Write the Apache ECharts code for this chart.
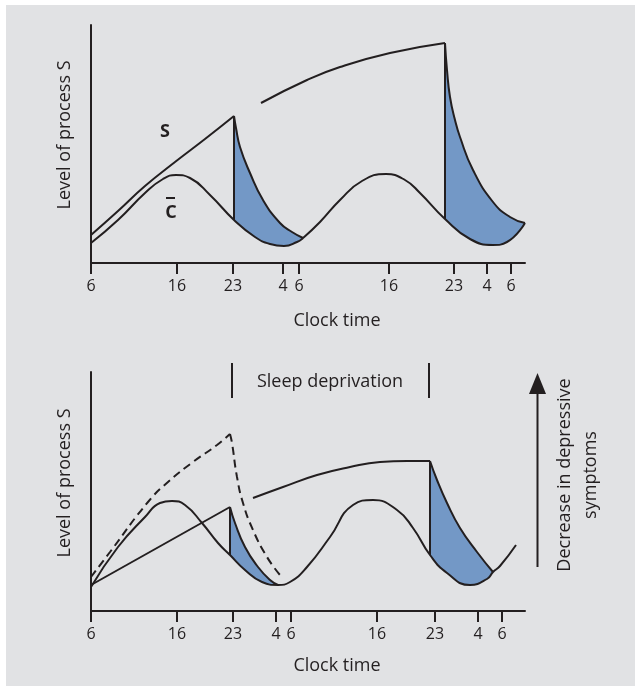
<html>
<head>
<meta http-equiv="Content-Type" content="text/html; charset=utf-8" />
<script src="https://cdn.jsdelivr.net/npm/echarts@6/dist/echarts.min.js"></script>
<style>
  body { margin: 0; background: #fff; }
</style>
</head>
<body>
<div id="main" style="width:635px;height:686px;"></div>
<script type="text/javascript">
// schematic units: x = position along the clock-time axis, y = level of process S / C
var tickLabels = ['6', '16', '23', '4', '6', '16', '23', '4', '6'];
var ticksTop = [0, 86, 142, 192, 208, 298, 363, 396, 420];
var ticksBottom = [0, 86, 142, 185, 200, 286, 344, 387, 411];

// upper panel: normal sleep
var cTop = [[0, 20], [27, 43], [54, 70], [72, 84], [85, 88], [99, 85], [119, 68], [143, 43], [164, 26], [179, 19], [193, 17], [206, 21], [212, 25], [229, 41], [249, 63], [271, 82], [295, 89], [314, 83], [329, 70], [354, 44], [379, 24], [402, 18], [416, 21], [434, 40]];
var sRiseTop1 = [[0, 28], [27, 52], [54, 77], [84, 101], [114, 124], [143, 147]];
var sDropTop1 = [[143, 147], [143, 43]];
var sDecayTop1 = [[143, 147], [145, 135], [149, 116], [159, 90], [172, 63], [189, 40], [201, 31], [212, 25]];
var sRiseTop2 = [[170, 160], [216, 183], [249, 196], [299, 210], [354, 220]];
var sDropTop2 = [[354, 220], [354, 44]];
var sDecayTop2 = [[354, 220], [356, 193], [359, 166], [364, 143], [369, 126], [382, 93], [402, 61], [419, 46], [434, 40]];

// lower panel: sleep deprivation
var cBottom = [[0, 24], [27, 64], [54, 94], [69, 108], [81, 110], [94, 106], [111, 88], [127, 68], [139, 56], [154, 41], [171, 29], [187, 26], [199, 29], [216, 44], [239, 74], [262, 106], [282, 111], [306, 101], [322, 83], [339, 56], [356, 38], [379, 26], [396, 32], [402, 39], [409, 45], [425, 66]];
var sRiseBottom1 = [[0, 26], [139, 104]];
var sDropBottom1 = [[139, 104], [139, 56]];
var sDecayBottom1 = [[139, 104], [144, 88], [154, 64], [167, 44], [179, 31], [187, 26]];
var dashRise = [[0, 34], [19, 59], [57, 109], [77, 129], [102, 149], [126, 166], [139, 177]];
var dashDecay = [[139, 177], [141, 168], [146, 134], [152, 108], [162, 81], [176, 54], [189, 36]];
var sRiseBottom2 = [[162, 113], [192, 124], [226, 136], [259, 144], [289, 149], [316, 150], [339, 150]];
var sDropBottom2 = [[339, 150], [339, 56]];
var sDecayBottom2 = [[339, 150], [346, 131], [356, 108], [369, 83], [386, 59], [402, 39]];

var ink = '#231f20';
var bg = '#e1e2e4';
var blue = '#7398c6';
var font = '"Open Sans", sans-serif';

var myChart = echarts.init(document.getElementById('main'));

function curve(data, idx, extra) {
    var s = {
        type: 'line',
        data: data,
        xAxisIndex: idx,
        yAxisIndex: idx,
        symbol: 'none',
        smooth: 0.5,
        z: 3,
        lineStyle: { color: ink, width: 2 }
    };
    for (var k in extra) s[k] = extra[k];
    return s;
}
function straight(data, idx) {
    return curve(data, idx, { smooth: false });
}
function xAxisFor(idx, ticks) {
    return {
        type: 'value', gridIndex: idx, min: 0, max: 434, z: 10,
        splitLine: { show: false },
        axisLine: { lineStyle: { color: ink, width: 2 } },
        axisTick: { customValues: ticks, length: 11, lineStyle: { color: ink, width: 2 } },
        axisLabel: {
            customValues: ticks, margin: 15, color: ink, fontFamily: font, fontSize: 16,
            formatter: function (v) { return tickLabels[ticks.indexOf(v)]; }
        }
    };
}
function yAxisFor(idx, max) {
    return {
        type: 'value', gridIndex: idx, min: 0, max: max, z: 10,
        splitLine: { show: false }, axisTick: { show: false }, axisLabel: { show: false },
        axisLine: { show: true, lineStyle: { color: ink, width: 2 } }
    };
}
function label(text, x, y, rot, weight) {
    return {
        type: 'text', x: x, y: y, rotation: rot || 0, silent: true, z: 100,
        style: {
            text: text, fill: ink, fontFamily: font, fontSize: 18, fontWeight: weight || 'normal',
            align: 'center', verticalAlign: 'middle', textAlign: 'center', textVerticalAlign: 'middle'
        }
    };
}
function bar(x1, y1, x2, y2) {
    return { type: 'line', silent: true, z: 100, shape: { x1: x1, y1: y1, x2: x2, y2: y2 }, style: { stroke: ink, lineWidth: 2 } };
}

var fill = { color: blue, opacity: 1 };
var cover = { color: bg, opacity: 1 };
var dashed = { color: ink, width: 2, type: [8, 5] };

myChart.setOption({
    animation: false,
    grid: [
        { left: 91, top: 25, width: 434, height: 238, outerBoundsMode: 'none' },
        { left: 91, top: 372, width: 434, height: 239, outerBoundsMode: 'none' }
    ],
    xAxis: [xAxisFor(0, ticksTop), xAxisFor(1, ticksBottom)],
    yAxis: [yAxisFor(0, 238), yAxisFor(1, 239)],
    graphic: [
        { type: 'rect', silent: true, z: -10, shape: { x: 6, y: 5, width: 629, height: 681 }, style: { fill: bg } },
        label('S', 165, 132, 0, 'bold'),
        label('C', 171, 213, 0, 'bold'),
        bar(166, 198, 175, 198),
        label('Clock time', 337, 321),
        label('Clock time', 337, 666),
        label('Level of process S', 65, 135, Math.PI / 2),
        label('Level of process S', 65, 483, Math.PI / 2),
        label('Sleep deprivation', 330, 382),
        bar(232, 363, 232, 398),
        bar(429, 363, 429, 398),
        bar(537.5, 567, 537.5, 390),
        { type: 'polygon', silent: true, z: 100, shape: { points: [[537.5, 373], [529, 394], [546, 394]] }, style: { fill: ink } },
        label('Decrease in depressive', 564.5, 475, Math.PI / 2),
        label('symptoms', 590.5, 475, Math.PI / 2)
    ],
    series: [
        // blue wedges: area under the S decay, then the C area repaints the part below C
        curve(sDecayTop1, 0, { areaStyle: fill, z: 1 }),
        curve(sDecayTop2, 0, { areaStyle: fill, z: 1 }),
        curve(cTop, 0, { areaStyle: cover, z: 2 }),
        curve(sRiseTop1, 0),
        straight(sDropTop1, 0),
        curve(sRiseTop2, 0),
        straight(sDropTop2, 0),

        curve(sDecayBottom1, 1, { areaStyle: fill, z: 1 }),
        curve(sDecayBottom2, 1, { areaStyle: fill, z: 1 }),
        curve(cBottom, 1, { areaStyle: cover, z: 2 }),
        straight(sRiseBottom1, 1),
        straight(sDropBottom1, 1),
        curve(sRiseBottom2, 1),
        straight(sDropBottom2, 1),
        curve(dashRise, 1, { lineStyle: dashed }),
        curve(dashDecay, 1, { lineStyle: dashed })
    ]
});
</script>
</body>
</html>
